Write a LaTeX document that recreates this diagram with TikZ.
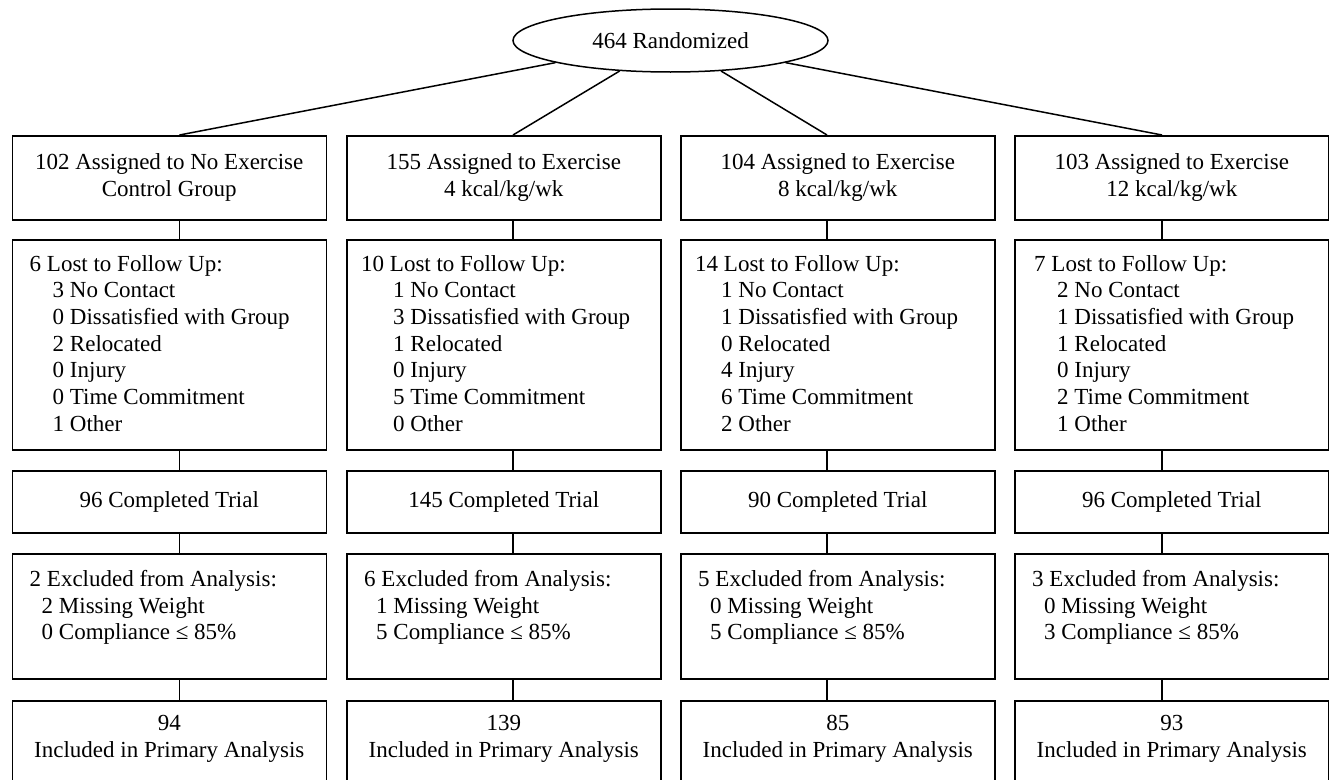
\documentclass[tikz,border=0pt]{standalone}
\usepackage{fontspec}
\setmainfont{Liberation Serif}
\usetikzlibrary{shapes.geometric,positioning}

\newcommand{\lostin}{\hspace*{23pt}}
\newcommand{\exclin}{\hspace*{12pt}}

\begin{document}
\begin{tikzpicture}[x=1pt,y=-1pt,
	font=\fontsize{23}{26.7}\selectfont,
	box/.style={draw, line width=1.5pt, inner sep=0pt, minimum width=314pt, anchor=north west, align=center},
	txt/.style={inner sep=0pt, align=left},
	link/.style={line width=1.5pt}]

	\useasboundingbox (0,0) rectangle (1329,779);

	%The randomization
	\node[draw, ellipse, line width=1.5pt, inner sep=0pt, minimum width=315pt, minimum height=63pt] (rand) at (670.5,40.5) {464 Randomized};

	%Where the connectors run down each column
	\coordinate (k1) at (179.5,0);
	\coordinate (k2) at (513,0);
	\coordinate (k3) at (827,0);
	\coordinate (k4) at (1162,0);

	%Column 1: control group
	\node[box, minimum height=84pt] (a1) at (11.5,135) {102 Assigned to No Exercise\\[0.5pt]Control Group};
	\node[box, minimum height=210pt] (b1) at (11.5,239) {};
	\node[txt, below right=16pt and 18pt of b1.north west] {6 Lost to Follow Up:\\ \lostin 3 No Contact\\ \lostin 0 Dissatisfied with Group\\ \lostin 2 Relocated\\ \lostin 0 Injury\\ \lostin 0 Time Commitment\\ \lostin 1 Other};
	\node[box, minimum height=62pt] (c1) at (11.5,470) {96 Completed Trial};
	\node[box, minimum height=125pt] (d1) at (11.5,553) {};
	\node[txt, below right=17pt and 18pt of d1.north west] {2 Excluded from Analysis:\\ \exclin 2 Missing Weight\\ \exclin 0 Compliance ≤ 85\%};
	\node[box, minimum height=100pt] (e1) at (11.5,700) {};
	\node[txt, align=center, below=15pt of e1.north] {94\\Included in Primary Analysis};

	%Column 2: 4 kcal/kg/wk
	\node[box, minimum height=84pt] (a2) at (346,135) {155 Assigned to Exercise\\[0.5pt]4 kcal/kg/wk};
	\node[box, minimum height=210pt] (b2) at (346,239) {};
	\node[txt, below right=16pt and 15pt of b2.north west] {10 Lost to Follow Up:\\ \hspace*{32pt}1 No Contact\\ \hspace*{32pt}3 Dissatisfied with Group\\ \hspace*{32pt}1 Relocated\\ \hspace*{32pt}0 Injury\\ \hspace*{32pt}5 Time Commitment\\ \hspace*{32pt}0 Other};
	\node[box, minimum height=62pt] (c2) at (346,470) {145 Completed Trial};
	\node[box, minimum height=125pt] (d2) at (346,553) {};
	\node[txt, below right=17pt and 18pt of d2.north west] {6 Excluded from Analysis:\\ \exclin 1 Missing Weight\\ \exclin 5 Compliance ≤ 85\%};
	\node[box, minimum height=100pt] (e2) at (346,700) {};
	\node[txt, align=center, below=15pt of e2.north] {139\\Included in Primary Analysis};

	%Column 3: 8 kcal/kg/wk
	\node[box, minimum height=84pt] (a3) at (680,135) {104 Assigned to Exercise\\[0.5pt]8 kcal/kg/wk};
	\node[box, minimum height=210pt] (b3) at (680,239) {};
	\node[txt, below right=16pt and 15pt of b3.north west] {14 Lost to Follow Up:\\ \hspace*{26pt}1 No Contact\\ \hspace*{26pt}1 Dissatisfied with Group\\ \hspace*{26pt}0 Relocated\\ \hspace*{26pt}4 Injury\\ \hspace*{26pt}6 Time Commitment\\ \hspace*{26pt}2 Other};
	\node[box, minimum height=62pt] (c3) at (680,470) {90 Completed Trial};
	\node[box, minimum height=125pt] (d3) at (680,553) {};
	\node[txt, below right=17pt and 18pt of d3.north west] {5 Excluded from Analysis:\\ \exclin 0 Missing Weight\\ \exclin 5 Compliance ≤ 85\%};
	\node[box, minimum height=100pt] (e3) at (680,700) {};
	\node[txt, align=center, below=15pt of e3.north] {85\\Included in Primary Analysis};

	%Column 4: 12 kcal/kg/wk
	\node[box, minimum height=84pt] (a4) at (1014,135) {103 Assigned to Exercise\\[0.5pt]12 kcal/kg/wk};
	\node[box, minimum height=210pt] (b4) at (1014,239) {};
	\node[txt, below right=16pt and 20pt of b4.north west] {7 Lost to Follow Up:\\ \lostin 2 No Contact\\ \lostin 1 Dissatisfied with Group\\ \lostin 1 Relocated\\ \lostin 0 Injury\\ \lostin 2 Time Commitment\\ \lostin 1 Other};
	\node[box, minimum height=62pt] (c4) at (1014,470) {96 Completed Trial};
	\node[box, minimum height=125pt] (d4) at (1014,553) {};
	\node[txt, below right=17pt and 18pt of d4.north west] {3 Excluded from Analysis:\\ \exclin 0 Missing Weight\\ \exclin 3 Compliance ≤ 85\%};
	\node[box, minimum height=100pt] (e4) at (1014,700) {};
	\node[txt, align=center, below=15pt of e4.north] {93\\Included in Primary Analysis};

	%Connectors
	\draw[link] (rand) -- (a1.north -| k1);
	\draw[link] (rand) -- (a2.north -| k2);
	\draw[link] (rand) -- (a3.north -| k3);
	\draw[link] (rand) -- (a4.north -| k4);
	\foreach \c in {1,2,3,4} {
		\draw[link] (a\c.south -| k\c) -- (b\c.north -| k\c);
		\draw[link] (b\c.south -| k\c) -- (c\c.north -| k\c);
		\draw[link] (c\c.south -| k\c) -- (d\c.north -| k\c);
		\draw[link] (d\c.south -| k\c) -- (e\c.north -| k\c);
	}

\end{tikzpicture}
\end{document}
